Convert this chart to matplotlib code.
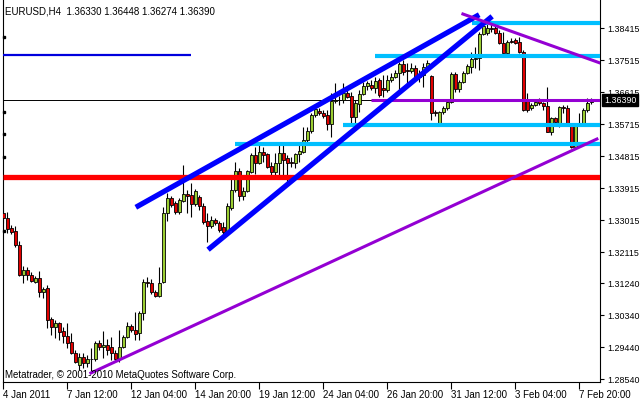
import matplotlib
matplotlib.use("Agg")
import matplotlib.pyplot as plt
import matplotlib.transforms as mtransforms
import numpy as np

# ---------- EURUSD H4 candles ----------
opens = [1.33212, 1.33071, 1.32790, 1.32706, 1.32312, 1.31468, 1.31609, 1.31468, 1.31271, 1.31384,
         1.30990, 1.31102, 1.30231, 1.30006, 1.30118, 1.29893, 1.29752, 1.29584, 1.29274, 1.28937,
         1.29162, 1.28993, 1.29106, 1.29106, 1.29556, 1.29443, 1.29499, 1.29443, 1.29274, 1.29106,
         1.29443, 1.29724, 1.30034, 1.29921, 1.29837, 1.30399, 1.31271, 1.31243, 1.30990, 1.30877,
         1.31271, 1.33212, 1.33634, 1.33493, 1.33240, 1.33549, 1.33746, 1.33718, 1.33465, 1.33662,
         1.33409, 1.32987, 1.32846, 1.33015, 1.32931, 1.32818, 1.32706, 1.33352, 1.33859, 1.34393,
         1.33690, 1.33831, 1.34365, 1.34843, 1.34618, 1.34927, 1.34871, 1.34534, 1.34365, 1.34618,
         1.34899, 1.34759, 1.34646, 1.34618, 1.34871, 1.34927, 1.35265, 1.35518, 1.35968, 1.36081,
         1.36024, 1.35968, 1.35715, 1.36362, 1.36390, 1.36390, 1.36587, 1.36502, 1.35912, 1.36277,
         1.36559, 1.36784, 1.36812, 1.36727, 1.36952, 1.36727, 1.36671, 1.36952, 1.37037, 1.37149,
         1.37402, 1.37234, 1.37206, 1.37290, 1.37037, 1.37093, 1.37318, 1.37065, 1.36052, 1.35743,
         1.36052, 1.36165, 1.36334, 1.37121, 1.36699, 1.36896, 1.37149, 1.37318, 1.37543, 1.37571,
         1.38246, 1.38274, 1.38415, 1.38415, 1.38274, 1.37993, 1.37712, 1.38049, 1.38077, 1.38021,
         1.37740, 1.36390, 1.36165, 1.36249, 1.36390, 1.36306, 1.36221, 1.35490, 1.35884, 1.35659,
         1.36193, 1.36165, 1.35715, 1.35068, 1.35715, 1.35743, 1.36109, 1.36330]
highs = [1.33296, 1.33240, 1.32874, 1.32846, 1.32424, 1.31721, 1.31693, 1.31552, 1.31440, 1.31581,
         1.31131, 1.31187, 1.30287, 1.30202, 1.30146, 1.30006, 1.30118, 1.29837, 1.29359, 1.29274,
         1.29274, 1.29218, 1.29415, 1.29612, 1.29640, 1.29893, 1.29668, 1.29724, 1.29359, 1.29921,
         1.29781, 1.30146, 1.30090, 1.30427, 1.30456, 1.31356, 1.31412, 1.31356, 1.31046, 1.31693,
         1.33381, 1.33774, 1.33690, 1.33549, 1.33634, 1.34562, 1.33859, 1.34056, 1.33887, 1.33718,
         1.33493, 1.33212, 1.33128, 1.33071, 1.32987, 1.32959, 1.33493, 1.34281, 1.34646, 1.34477,
         1.33943, 1.34421, 1.34899, 1.35068, 1.35209, 1.35068, 1.34899, 1.34646, 1.34899, 1.35181,
         1.35181, 1.34843, 1.34787, 1.34899, 1.35181, 1.35631, 1.35631, 1.36024, 1.36221, 1.36165,
         1.36109, 1.36109, 1.36587, 1.36868, 1.36502, 1.36868, 1.36671, 1.36615, 1.36390, 1.36671,
         1.36896, 1.36924, 1.36952, 1.37037, 1.37009, 1.37093, 1.37093, 1.37149, 1.37234, 1.37459,
         1.37515, 1.37431, 1.37431, 1.37374, 1.37234, 1.37431, 1.37515, 1.37093, 1.36109, 1.36081,
         1.36221, 1.36390, 1.37177, 1.37177, 1.36952, 1.37206, 1.37402, 1.37740, 1.37881, 1.38302,
         1.38556, 1.38584, 1.38584, 1.38471, 1.38359, 1.38302, 1.38077, 1.38134, 1.38134, 1.38162,
         1.37796, 1.36587, 1.36306, 1.36390, 1.36446, 1.36334, 1.36755, 1.35912, 1.35912, 1.36221,
         1.36249, 1.36249, 1.35743, 1.35743, 1.36024, 1.36165, 1.36446, 1.36448]
lows = [1.32931, 1.32649, 1.32621, 1.32256, 1.31440, 1.31243, 1.31327, 1.31271, 1.31243, 1.30849,
        1.30821, 1.29977, 1.29781, 1.29696, 1.29640, 1.29556, 1.29415, 1.29246, 1.28993, 1.28796,
        1.28852, 1.28881, 1.28740, 1.29049, 1.29359, 1.29134, 1.29218, 1.29077, 1.29021, 1.29021,
        1.29415, 1.29696, 1.29865, 1.29640, 1.29640, 1.30202, 1.31131, 1.30934, 1.30849, 1.30849,
        1.31243, 1.32987, 1.33381, 1.33184, 1.33184, 1.33521, 1.33212, 1.33099, 1.33409, 1.33296,
        1.32902, 1.32396, 1.32790, 1.32874, 1.32677, 1.32537, 1.32649, 1.33296, 1.33802, 1.33549,
        1.33577, 1.33802, 1.34337, 1.34309, 1.34590, 1.34646, 1.34477, 1.34224, 1.34224, 1.34281,
        1.34281, 1.34056, 1.34506, 1.34477, 1.34646, 1.34899, 1.35181, 1.35462, 1.35912, 1.35968,
        1.35884, 1.35546, 1.35349, 1.36306, 1.36249, 1.36306, 1.36446, 1.35743, 1.35743, 1.36052,
        1.36531, 1.36671, 1.36671, 1.36587, 1.36474, 1.36474, 1.36615, 1.36896, 1.37009, 1.36587,
        1.37093, 1.36755, 1.37149, 1.37009, 1.36896, 1.36755, 1.37234, 1.35828, 1.35940, 1.35687,
        1.35996, 1.36109, 1.36306, 1.36615, 1.36615, 1.36868, 1.37121, 1.37149, 1.37290, 1.37234,
        1.38218, 1.38218, 1.38302, 1.38246, 1.37965, 1.37656, 1.37656, 1.37993, 1.37965, 1.37712,
        1.36081, 1.36052, 1.36109, 1.36221, 1.36249, 1.36109, 1.35490, 1.35406, 1.35743, 1.35631,
        1.36024, 1.35687, 1.35040, 1.35040, 1.35687, 1.35715, 1.36052, 1.36274]
closes = [1.33071, 1.32762, 1.32677, 1.32312, 1.31468, 1.31609, 1.31468, 1.31299, 1.31384, 1.30990,
          1.31074, 1.30202, 1.30006, 1.30118, 1.29865, 1.29752, 1.29556, 1.29274, 1.29021, 1.29162,
          1.28993, 1.29106, 1.29092, 1.29556, 1.29443, 1.29499, 1.29359, 1.29274, 1.29106, 1.29443,
          1.29724, 1.30034, 1.29921, 1.29809, 1.30399, 1.31271, 1.31243, 1.30990, 1.30877, 1.31243,
          1.33212, 1.33634, 1.33437, 1.33240, 1.33577, 1.33746, 1.33704, 1.33465, 1.33831, 1.33409,
          1.32959, 1.32846, 1.33015, 1.32931, 1.32734, 1.32677, 1.33409, 1.33859, 1.34393, 1.33690,
          1.33831, 1.34393, 1.34843, 1.34618, 1.34927, 1.34843, 1.34506, 1.34365, 1.34618, 1.34899,
          1.34702, 1.34618, 1.34618, 1.34871, 1.34956, 1.35265, 1.35518, 1.35968, 1.36137, 1.36024,
          1.35940, 1.35715, 1.36362, 1.36390, 1.36404, 1.36587, 1.36474, 1.35912, 1.36306, 1.36559,
          1.36784, 1.36868, 1.36727, 1.36924, 1.36531, 1.36671, 1.36952, 1.37037, 1.37149, 1.37402,
          1.37177, 1.37206, 1.37290, 1.37037, 1.37121, 1.37318, 1.37431, 1.36024, 1.36024, 1.36052,
          1.36165, 1.36334, 1.37121, 1.36699, 1.36896, 1.37149, 1.37346, 1.37543, 1.37571, 1.38246,
          1.38471, 1.38415, 1.38401, 1.38274, 1.37993, 1.37712, 1.38021, 1.38035, 1.37993, 1.37740,
          1.36109, 1.36109, 1.36249, 1.36334, 1.36306, 1.36221, 1.35490, 1.35884, 1.35771, 1.36193,
          1.36165, 1.35715, 1.35068, 1.35715, 1.35743, 1.36109, 1.36306, 1.36390]

# ---------- axis labels ----------
date_ticks = [0, 16, 32, 48, 64, 80, 96, 112, 128, 144]
date_labels = ["4 Jan 2011", "7 Jan 12:00", "12 Jan 04:00", "14 Jan 20:00", "19 Jan 12:00",
               "24 Jan 04:00", "26 Jan 20:00", "31 Jan 12:00", "3 Feb 04:00", "7 Feb 20:00"]
price_ticks = [1.38415, 1.37515, 1.36615, 1.35715, 1.34815, 1.33915, 1.33015,
               1.32115, 1.31240, 1.30340, 1.29440, 1.28540]
last_price = 1.36390

# ---------- drawn objects (bar index, price) ----------
chan_up_x = [33.7, 118.4]
chan_up_y = [1.33409, 1.38753]
chan_dn_x = [51.7, 121.7]
chan_dn_y = [1.32228, 1.38696]
support_x = [21.9, 148.4]
support_y = [1.28712, 1.35293]
resist_x = [114.9, 149.2]
resist_y = [1.38809, 1.37431]
cyan_levels = [1.38556, 1.37628, 1.35701, 1.35152]
cyan_start = [117.2, 92.9, 84.9, 57.9]
violet_level = 1.36390
violet_start = 91.9
red_level = 1.34238
blue_level = 1.37670
blue_end = 46.8
left_marks = [1.38162, 1.36052, 1.35434, 1.34787, 1.32706]

x_min, x_max = -0.075, 149.175
y_min, y_max = 1.28459, 1.39203

fig = plt.figure(figsize=(6.4, 4), dpi=100)
ax = fig.add_axes([3 / 640, 18 / 400, 597 / 640, 382 / 400])
font = "Liberation Sans"

o = np.array(opens)
h = np.array(highs)
l = np.array(lows)
c = np.array(closes)
x = np.arange(len(o))
up = c >= o

# wicks + bodies
ax.vlines(x, l, h, color="black", lw=0.8, zorder=2)
body = np.maximum(np.abs(c - o), 0.00004)
ax.bar(x[up], body[up], bottom=o[up], width=0.62, color="#9ACD32",
       edgecolor="black", linewidth=0.6, zorder=3)
ax.bar(x[~up], body[~up], bottom=c[~up], width=0.62, color="#E00000",
       edgecolor="black", linewidth=0.6, zorder=3)

# current price line
ax.axhline(last_price, color="black", lw=0.7, zorder=1)

# horizontal levels
ax.plot([x_min, x_max], [red_level, red_level], color="#FF0000", lw=3.8, zorder=4,
        solid_capstyle="butt")
for lev, st in zip(cyan_levels, cyan_start):
    ax.plot([st, x_max], [lev, lev], color="#00BFFF", lw=3.0, zorder=4, solid_capstyle="butt")
ax.plot([violet_start, x_max], [violet_level, violet_level], color="#9400D3", lw=2.2, zorder=4,
        solid_capstyle="butt")
ax.plot([x_min, blue_end], [blue_level, blue_level], color="#0000DD", lw=1.6, zorder=4,
        solid_capstyle="butt")

# trend lines
ax.plot(chan_up_x, chan_up_y, color="#0000FF", lw=3.8, zorder=5)
ax.plot(chan_dn_x, chan_dn_y, color="#0000FF", lw=3.8, zorder=5)
ax.plot(support_x, support_y, color="#9400D3", lw=2.2, zorder=5)
ax.plot(resist_x, resist_y, color="#9400D3", lw=2.2, zorder=5)

ax.plot([0.15] * len(left_marks), left_marks, "s", color="black", ms=2.0, zorder=6, clip_on=False)

ax.set_xlim(x_min, x_max)
ax.set_ylim(y_min, y_max)

# frame + ticks
ax.spines["top"].set_visible(False)
for s in ["left", "bottom", "right"]:
    ax.spines[s].set_linewidth(0.8)
ax.yaxis.tick_right()
ax.set_yticks(price_ticks)
ax.set_yticklabels(["%.5f" % p for p in price_ticks], fontsize=6.4, family=font)
ax.set_xticks(date_ticks)
ax.set_xticklabels(date_labels, fontsize=7, family=font, ha="left")
ax.tick_params(axis="y", direction="out", length=3, width=0.8, pad=2)
ax.tick_params(axis="x", direction="out", length=5, width=0.8, pad=1)

# price box on the scale
trans = mtransforms.blended_transform_factory(ax.transAxes, ax.transData)
ax.text(1.0 + 4 / 597, last_price, "%.5f" % last_price, transform=trans, color="white",
        fontsize=6.4, family=font, ha="left", va="center", zorder=10,
        bbox=dict(boxstyle="square,pad=0.2", fc="black", ec="black"))

fig.text(5 / 640, 1 - 11 / 400, "EURUSD,H4  1.36330 1.36448 1.36274 1.36390",
         fontsize=7, family=font, va="center", ha="left")
fig.text(5 / 640, 1 - 375 / 400, "Metatrader, \u00a9 2001-2010 MetaQuotes Software Corp.",
         fontsize=7, family=font, va="center", ha="left", zorder=10)

fig.savefig("out.png", dpi=100)
